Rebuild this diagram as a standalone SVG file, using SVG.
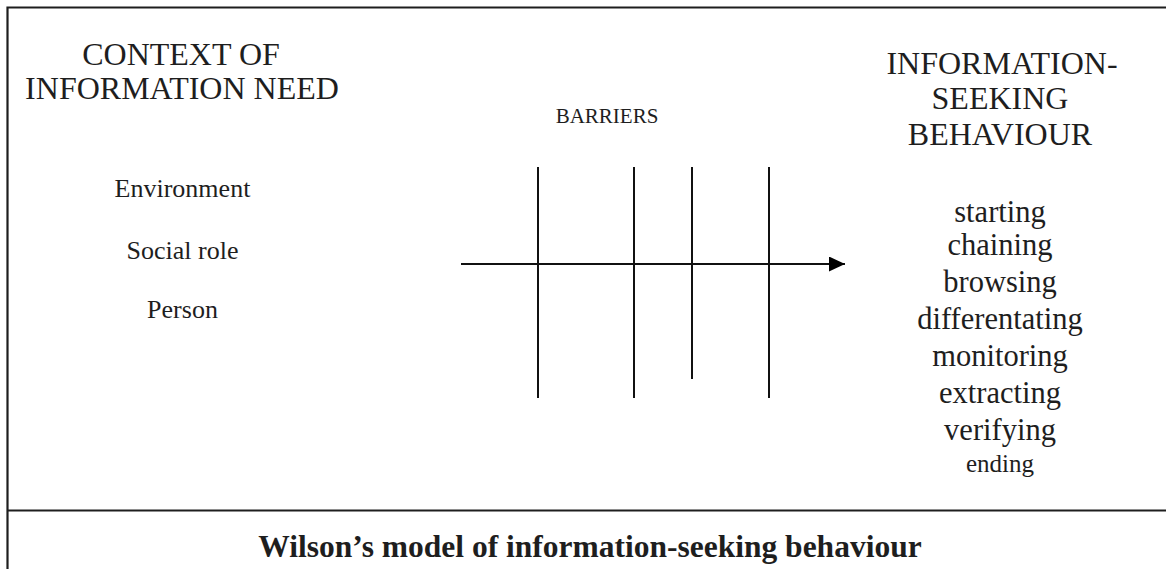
<svg xmlns="http://www.w3.org/2000/svg" width="1166" height="569" viewBox="0 0 1166 569">
  <style>
    text { font-family: "Liberation Serif", "Times New Roman", serif; fill: #1e1e1e; text-anchor: middle; }
    .h { font-size: 32px; }
    .item { font-size: 26px; }
    .act { font-size: 30.5px; }
    .line { stroke: #111; stroke-width: 2; fill: none; }
    .frame { stroke: #1e1e1e; stroke-width: 2.2; fill: none; }
  </style>
  <defs>
    <marker id="arrow" markerWidth="16" markerHeight="15" refX="16" refY="7.5" orient="auto" markerUnits="userSpaceOnUse">
      <path d="M0,0 L16,7.5 L0,15 Z" fill="#000"/>
    </marker>
  </defs>
  <rect width="1166" height="569" fill="#fff"/>
  <g id="frame">
    <path class="frame" d="M7.5,569 V7.5 H1166"/>
    <path class="frame" d="M7.5,510.5 H1166"/>
  </g>
  <g id="context">
    <text class="h" x="181" y="65">CONTEXT OF</text>
    <text class="h" x="182" y="99">INFORMATION NEED</text>
    <text class="item" x="182.5" y="197">Environment</text>
    <text class="item" x="182.5" y="259">Social role</text>
    <text class="item" x="182.5" y="318">Person</text>
  </g>
  <g id="barriers">
    <text x="607" y="123" style="font-size:21px">BARRIERS</text>
    <line class="line" x1="538" y1="167" x2="538" y2="398"/>
    <line class="line" x1="634" y1="167" x2="634" y2="398"/>
    <line class="line" x1="692" y1="167" x2="692" y2="379"/>
    <line class="line" x1="769" y1="167" x2="769" y2="398"/>
  </g>
  <g id="connectors">
    <line class="line" x1="461" y1="264" x2="845" y2="264" marker-end="url(#arrow)"/>
  </g>
  <g id="behaviour">
    <text class="h" x="1002" y="74">INFORMATION-</text>
    <text class="h" x="1000" y="109">SEEKING</text>
    <text class="h" x="1000" y="145">BEHAVIOUR</text>
    <text class="act" x="1000" y="222">starting</text>
    <text class="act" x="1000" y="255">chaining</text>
    <text class="act" x="1000" y="292">browsing</text>
    <text class="act" x="1000" y="329">differentating</text>
    <text class="act" x="1000" y="366">monitoring</text>
    <text class="act" x="1000" y="403">extracting</text>
    <text class="act" x="1000" y="440">verifying</text>
    <text x="1000" y="472" style="font-size:25px">ending</text>
  </g>
  <g id="caption">
    <text x="590" y="557" style="font-size:31.5px;font-weight:bold">Wilson’s model of information-seeking behaviour</text>
  </g>
</svg>
